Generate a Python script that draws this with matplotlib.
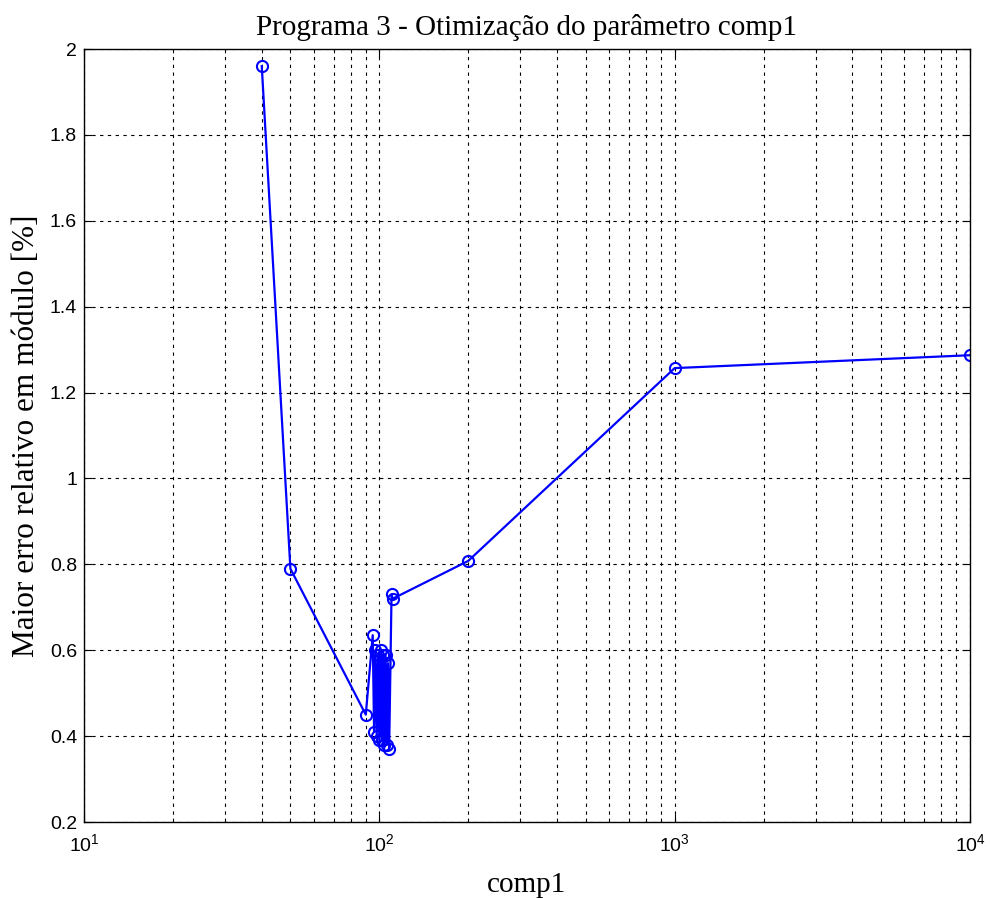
import matplotlib.pyplot as plt
from matplotlib.ticker import FormatStrFormatter, LogLocator, NullFormatter

# comp1 values tried and the largest relative error (module) for each
comp1 = [40, 50, 90, 95, 96, 97, 98, 99, 100, 101, 102, 103, 104, 105,
         106, 107, 108, 110, 111, 200, 1000, 10000]
erro = [1.96, 0.79, 0.45, 0.635, 0.41, 0.60, 0.40, 0.59, 0.39, 0.60, 0.39,
        0.59, 0.38, 0.59, 0.38, 0.57, 0.37, 0.73, 0.72, 0.808, 1.257, 1.287]

yticks = [0.2, 0.4, 0.6, 0.8, 1.0, 1.2, 1.4, 1.6, 1.8, 2.0]

fig = plt.figure(figsize=(9.9, 8.98), dpi=100)
ax = fig.add_axes([0.0848, 0.0846, 0.895, 0.8608])

ax.semilogx(comp1, erro, color='#0000ff', linewidth=1.6, marker='o',
            markersize=8, markerfacecolor='none', markeredgecolor='#0000ff',
            markeredgewidth=1.5)

ax.set_xlim(10, 10000)
ax.set_ylim(0.2, 2)
ax.set_yticks(yticks)
ax.yaxis.set_major_formatter(FormatStrFormatter('%g'))
ax.xaxis.set_minor_locator(LogLocator(base=10, subs=range(2, 10)))
ax.xaxis.set_minor_formatter(NullFormatter())

# matlab-like dashed grid, ticks inside on every side
ax.grid(True, which='major', color='black', linestyle=(0, (3, 4)), linewidth=0.8)
ax.grid(True, which='minor', axis='x', color='black', linestyle=(0, (3, 4)), linewidth=0.8)
ax.tick_params(which='both', direction='in', top=True, right=True,
               labelsize=14)
ax.tick_params(axis='y', pad=5)
ax.tick_params(axis='x', pad=8)
ax.tick_params(which='major', length=6)
ax.tick_params(which='minor', length=3)
for lab in ax.get_xticklabels() + ax.get_yticklabels():
    lab.set_family('Liberation Sans')
for s in ax.spines.values():
    s.set_linewidth(1.0)

ax.set_title('Programa 3 - Otimização do parâmetro comp1',
             family='Liberation Serif', fontsize=21, pad=10)
ax.set_xlabel('comp1', family='Liberation Serif', fontsize=21, labelpad=12)
ax.set_ylabel('Maior erro relativo em módulo [%]', family='Liberation Serif',
              fontsize=22.5, labelpad=6)

fig.savefig('out.png', dpi=100)
